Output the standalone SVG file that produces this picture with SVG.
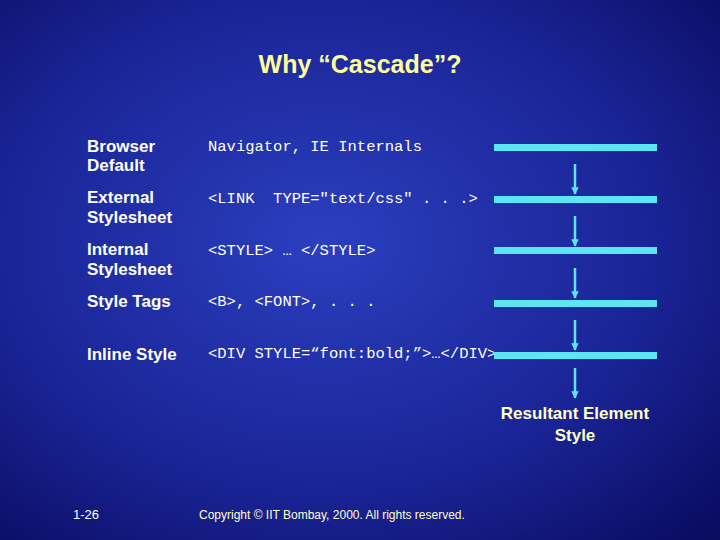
<svg xmlns="http://www.w3.org/2000/svg" width="720" height="540" viewBox="0 0 720 540">
<defs>
<radialGradient id="bg" cx="0.45" cy="0.45" r="0.75">
<stop offset="0" stop-color="#2b3fbf"/>
<stop offset="0.6" stop-color="#1a2496"/>
<stop offset="1" stop-color="#0a0c62"/>
</radialGradient>
<marker id="ah" viewBox="0 0 10 10" refX="9" refY="5" markerWidth="4" markerHeight="3" orient="auto" markerUnits="strokeWidth"><path d="M0,0L10,5L0,10z" fill="#5ce6f5"/></marker>
<style>
.lab{font-family:"Liberation Sans",Arial,sans-serif;font-weight:bold;font-size:17px;fill:#fff}
.code{font-family:"Liberation Mono","Courier New",monospace;font-size:15.5px;fill:#fff}
.bar{fill:#5ce6f5}
.ar{stroke:#5ce6f5;stroke-width:2.5;marker-end:url(#ah)}
.res{fill:#ffffcc}
</style>
</defs>
<rect width="720" height="540" fill="url(#bg)"/>
<text x="360" y="73" text-anchor="middle" font-family="Liberation Sans,Arial,sans-serif" font-weight="bold" font-size="25" fill="#ffff99">Why “Cascade”?</text>
<g id="row1"><text class="lab" x="87" y="152">Browser</text><text class="lab" x="87" y="171">Default</text><text class="code" x="208" y="151">Navigator, IE Internals</text></g>
<g id="row2"><text class="lab" x="87" y="203">External</text><text class="lab" x="87" y="223">Stylesheet</text><text class="code" x="208" y="203" xml:space="preserve">&lt;LINK  TYPE="text/css" . . .&gt;</text></g>
<g id="row3"><text class="lab" x="87" y="255">Internal</text><text class="lab" x="87" y="275">Stylesheet</text><text class="code" x="208" y="255">&lt;STYLE&gt; … &lt;/STYLE&gt;</text></g>
<g id="row4"><text class="lab" x="87" y="307">Style Tags</text><text class="code" x="208" y="306">&lt;B&gt;, &lt;FONT&gt;, . . .</text></g>
<g id="row5"><text class="lab" x="87" y="360">Inline Style</text><text class="code" x="208" y="358">&lt;DIV STYLE=“font:bold;”&gt;…&lt;/DIV&gt;</text></g>
<g id="bars">
<rect class="bar" x="494" y="144" width="163" height="7"/>
<rect class="bar" x="494" y="196" width="163" height="7"/>
<rect class="bar" x="494" y="247" width="163" height="7"/>
<rect class="bar" x="494" y="300" width="163" height="7"/>
<rect class="bar" x="494" y="352" width="163" height="7"/>
</g>
<g id="connectors">
<line class="ar" x1="575" y1="164" x2="575" y2="194"/>
<line class="ar" x1="575" y1="216" x2="575" y2="246"/>
<line class="ar" x1="575" y1="268" x2="575" y2="298"/>
<line class="ar" x1="575" y1="320" x2="575" y2="350"/>
<line class="ar" x1="575" y1="368" x2="575" y2="398"/>
</g>
<g id="result"><text class="lab res" x="575" y="419" text-anchor="middle" style="fill:#ffffcc">Resultant Element</text><text class="lab res" x="575" y="441" text-anchor="middle" style="fill:#ffffcc">Style</text></g>
<text x="73" y="519" font-family="Liberation Sans,Arial,sans-serif" font-size="13" fill="#fff">1-26</text>
<text x="199" y="519" font-family="Liberation Sans,Arial,sans-serif" font-size="12" fill="#ffffcc">Copyright © IIT Bombay, 2000. All rights reserved.</text>
</svg>
